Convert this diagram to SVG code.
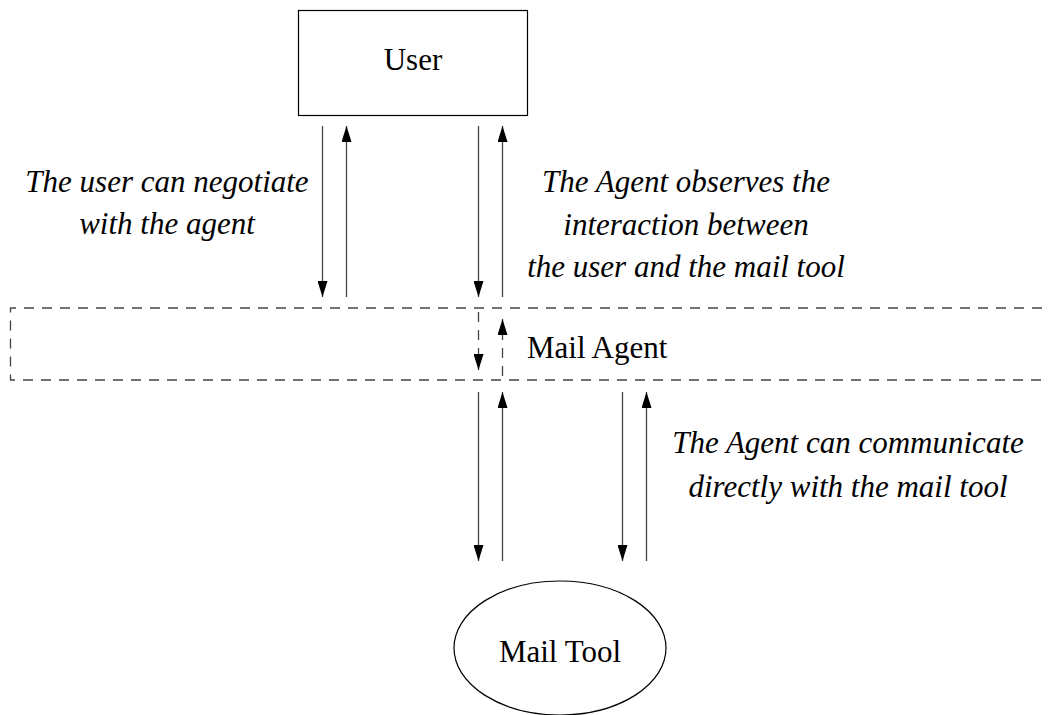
<svg xmlns="http://www.w3.org/2000/svg" width="1048" height="715" viewBox="0 0 1048 715">
  <style>
    .node { fill: #ffffff; stroke: #000000; stroke-width: 1.2; }
    .name { font-family: "Liberation Serif", "Times New Roman", serif; font-size: 31px; fill: #000000; }
    .note { font-family: "Liberation Serif", "Times New Roman", serif; font-size: 31px; font-style: italic; fill: #000000; text-anchor: middle; }
    .flow { stroke: #444444; stroke-width: 1.3; fill: none; }
    .dash { stroke: #444444; stroke-width: 1.3; fill: none; stroke-dasharray: 10 8; }
  </style>
  <defs>
    <marker id="head" viewBox="0 0 16 10" refX="16" refY="5" markerWidth="16" markerHeight="10" markerUnits="userSpaceOnUse" orient="auto">
      <path d="M0,0 L16,5 L0,10 Z" fill="#000000"/>
    </marker>
  </defs>

  <rect width="1048" height="715" fill="#ffffff"/>

  <!-- agent layer: dashed band running off the right edge -->
  <g id="mail-agent">
    <path class="dash" d="M1060,308 L10.5,308 L10.5,380 L1060,380"/>
    <text class="name" x="527" y="358">Mail Agent</text>
  </g>

  <g id="user">
    <rect class="node" x="298.5" y="10.5" width="229" height="105"/>
    <text class="name" x="413" y="70" text-anchor="middle">User</text>
  </g>

  <g id="mail-tool">
    <ellipse class="node" cx="560" cy="648" rx="106" ry="67"/>
    <text class="name" x="560" y="662" text-anchor="middle">Mail Tool</text>
  </g>

  <g id="connectors">
    <!-- user <-> agent -->
    <line class="flow" x1="322.5" y1="126" x2="322.5" y2="297" marker-end="url(#head)"/>
    <line class="flow" x1="346.5" y1="297" x2="346.5" y2="126" marker-end="url(#head)"/>
    <!-- user <-> mail tool, passing through the agent layer -->
    <line class="flow" x1="478.5" y1="126" x2="478.5" y2="297" marker-end="url(#head)"/>
    <line class="flow" x1="502.5" y1="297" x2="502.5" y2="126" marker-end="url(#head)"/>
    <line class="dash" x1="478.5" y1="312" x2="478.5" y2="370" marker-end="url(#head)"/>
    <line class="dash" x1="502.5" y1="376" x2="502.5" y2="319" marker-end="url(#head)"/>
    <line class="flow" x1="478.5" y1="392" x2="478.5" y2="561" marker-end="url(#head)"/>
    <line class="flow" x1="502.5" y1="561" x2="502.5" y2="392" marker-end="url(#head)"/>
    <!-- agent <-> mail tool -->
    <line class="flow" x1="622.5" y1="392" x2="622.5" y2="561" marker-end="url(#head)"/>
    <line class="flow" x1="646.5" y1="561" x2="646.5" y2="392" marker-end="url(#head)"/>
  </g>

  <g id="labels">
    <text class="note" x="167" y="192">The user can negotiate</text>
    <text class="note" x="167" y="234">with the agent</text>
    <text class="note" x="686" y="192">The Agent observes the</text>
    <text class="note" x="686" y="235">interaction between</text>
    <text class="note" x="686" y="277">the user and the mail tool</text>
    <text class="note" x="848" y="453">The Agent can communicate</text>
    <text class="note" x="848" y="497">directly with the mail tool</text>
  </g>
</svg>
